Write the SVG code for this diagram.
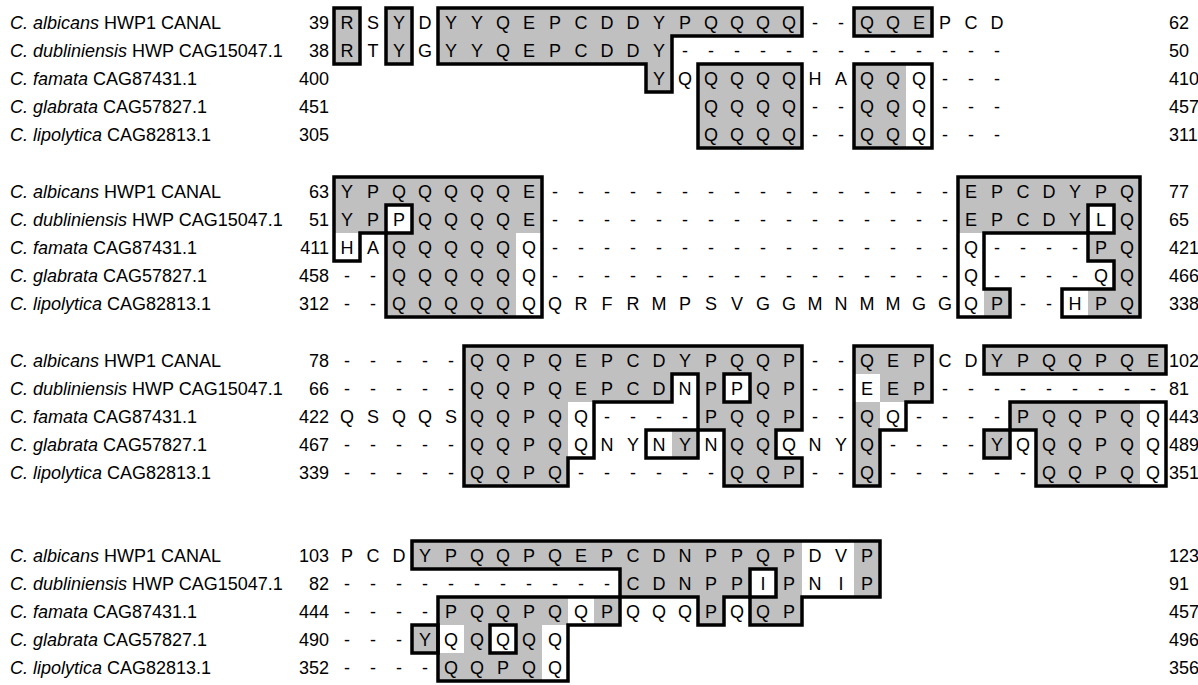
<svg xmlns="http://www.w3.org/2000/svg" width="1198" height="685" viewBox="0 0 1198 685">
<style>
text{font-family:"Liberation Sans",Arial,Helvetica,sans-serif;font-size:18px;fill:#000}
.sp{font-style:italic}
.res{text-anchor:middle}
.ln{text-anchor:end}
.g{fill:#c0c0c0}
.o{fill:none;stroke:#000;stroke-width:3.5;stroke-linejoin:miter}
</style>
<rect width="1198" height="685" fill="#fff"/>

<g id="block1" transform="translate(0,8)">
  <g id="b1-labels">
    <text x="10" y="21"><tspan class="sp">C. albicans</tspan> HWP1 CANAL</text>
    <text x="10" y="49"><tspan class="sp">C. dubliniensis</tspan> HWP CAG15047.1</text>
    <text x="10" y="77"><tspan class="sp">C. famata</tspan> CAG87431.1</text>
    <text x="10" y="105"><tspan class="sp">C. glabrata</tspan> CAG57827.1</text>
    <text x="10" y="133"><tspan class="sp">C. lipolytica</tspan> CAG82813.1</text>
  </g>
  <g transform="translate(334,0)">
    <g id="b1-shade" class="g">
      <rect x="0" y="0" width="26" height="56"/>
      <rect x="52" y="0" width="26" height="56"/>
      <rect x="104" y="0" width="364" height="28"/>
      <rect x="520" y="0" width="78" height="28"/>
      <rect x="104" y="28" width="234" height="28"/>
      <rect x="312" y="56" width="26" height="28"/>
      <rect x="364" y="56" width="104" height="84"/>
      <rect x="520" y="56" width="52" height="84"/>
    </g>
    <g id="b1-seq" class="res">
      <text x="13 39 65 91 117 143 169 195 221 247 273 299 325 351 377 403 429 455 481 507 533 559 585 611 637 663" y="21">RSYDYYQEPCDDYPQQQQ--QQEPCD</text>
      <text x="13 39 65 91 117 143 169 195 221 247 273 299 325 351 377 403 429 455 481 507 533 559 585 611 637 663" y="49">RTYGYYQEPCDDY-------------</text>
      <text x="325 351 377 403 429 455 481 507 533 559 585 611 637 663" y="77">YQQQQQHAQQQ---</text>
      <text x="377 403 429 455 481 507 533 559 585 611 637 663" y="105">QQQQ--QQQ---</text>
      <text x="377 403 429 455 481 507 533 559 585 611 637 663" y="133">QQQQ--QQQ---</text>
    </g>
    <g id="b1-num">
      <text class="ln" x="-5" y="21">39</text><text class="ln" x="-5" y="49">38</text><text class="ln" x="-5" y="77">400</text><text class="ln" x="-5" y="105">451</text><text class="ln" x="-5" y="133">305</text>
      <text x="835" y="21">62</text><text x="835" y="49">50</text><text x="835" y="77">410</text><text x="835" y="105">457</text><text x="835" y="133">311</text>
    </g>
    <g id="b1-boxes" class="o">
      <path d="M0,0H26V56H0Z"/>
      <path d="M52,0H78V56H52Z"/>
      <path d="M104,0H468V28H338V84H312V56H104Z"/>
      <path d="M364,56H468V140H364Z"/>
      <path d="M520,0H598V28H520Z"/>
      <path d="M520,56H598V140H520Z"/>
    </g>
  </g>
</g>

<g id="block2" transform="translate(0,177)">
  <g id="b2-labels">
    <text x="10" y="21"><tspan class="sp">C. albicans</tspan> HWP1 CANAL</text>
    <text x="10" y="49"><tspan class="sp">C. dubliniensis</tspan> HWP CAG15047.1</text>
    <text x="10" y="77"><tspan class="sp">C. famata</tspan> CAG87431.1</text>
    <text x="10" y="105"><tspan class="sp">C. glabrata</tspan> CAG57827.1</text>
    <text x="10" y="133"><tspan class="sp">C. lipolytica</tspan> CAG82813.1</text>
  </g>
  <g transform="translate(334,0)">
    <g id="b2-shade" class="g">
      <rect x="0" y="0" width="208" height="28"/>
      <rect x="624" y="0" width="182" height="28"/>
      <rect x="0" y="28" width="52" height="28"/>
      <rect x="78" y="28" width="130" height="28"/>
      <rect x="624" y="28" width="130" height="28"/>
      <rect x="780" y="28" width="26" height="28"/>
      <rect x="52" y="56" width="130" height="84"/>
      <rect x="754" y="56" width="52" height="28"/>
      <rect x="780" y="84" width="26" height="56"/>
      <rect x="650" y="112" width="26" height="28"/>
      <rect x="754" y="112" width="26" height="28"/>
    </g>
    <g id="b2-seq" class="res">
      <text x="13 39 65 91 117 143 169 195 221 247 273 299 325 351 377 403 429 455 481 507 533 559 585 611 637 663 689 715 741 767 793" y="21">YPQQQQQE----------------EPCDYPQ</text>
      <text x="13 39 65 91 117 143 169 195 221 247 273 299 325 351 377 403 429 455 481 507 533 559 585 611 637 663 689 715 741 767 793" y="49">YPPQQQQE----------------EPCDYLQ</text>
      <text x="13 39 65 91 117 143 169 195 221 247 273 299 325 351 377 403 429 455 481 507 533 559 585 611 637 663 689 715 741 767 793" y="77">HAQQQQQQ----------------Q----PQ</text>
      <text x="13 39 65 91 117 143 169 195 221 247 273 299 325 351 377 403 429 455 481 507 533 559 585 611 637 663 689 715 741 767 793" y="105">--QQQQQQ----------------Q----QQ</text>
      <text x="13 39 65 91 117 143 169 195 221 247 273 299 325 351 377 403 429 455 481 507 533 559 585 611 637 663 689 715 741 767 793" y="133">--QQQQQQQRFRMPSVGGMNMMGGQP--HPQ</text>
    </g>
    <g id="b2-num">
      <text class="ln" x="-5" y="21">63</text><text class="ln" x="-5" y="49">51</text><text class="ln" x="-5" y="77">411</text><text class="ln" x="-5" y="105">458</text><text class="ln" x="-5" y="133">312</text>
      <text x="835" y="21">77</text><text x="835" y="49">65</text><text x="835" y="77">421</text><text x="835" y="105">466</text><text x="835" y="133">338</text>
    </g>
    <g id="b2-boxes" class="o">
      <path d="M0,0H208V140H52V56H26V84H0Z"/>
      <path d="M52,28H78V56H52Z"/>
      <path d="M624,0H806V140H728V112H780V84H754V56H650V112H676V140H624Z"/>
      <path d="M754,28H780V56H754Z"/>
    </g>
  </g>
</g>

<g id="block3" transform="translate(0,346)">
  <g id="b3-labels">
    <text x="10" y="21"><tspan class="sp">C. albicans</tspan> HWP1 CANAL</text>
    <text x="10" y="49"><tspan class="sp">C. dubliniensis</tspan> HWP CAG15047.1</text>
    <text x="10" y="77"><tspan class="sp">C. famata</tspan> CAG87431.1</text>
    <text x="10" y="105"><tspan class="sp">C. glabrata</tspan> CAG57827.1</text>
    <text x="10" y="133"><tspan class="sp">C. lipolytica</tspan> CAG82813.1</text>
  </g>
  <g transform="translate(334,0)">
    <g id="b3-shade" class="g">
      <rect x="130" y="0" width="338" height="28"/>
      <rect x="520" y="0" width="78" height="28"/>
      <rect x="650" y="0" width="182" height="28"/>
      <rect x="130" y="28" width="208" height="28"/>
      <rect x="364" y="28" width="26" height="28"/>
      <rect x="416" y="28" width="52" height="28"/>
      <rect x="546" y="28" width="52" height="28"/>
      <rect x="130" y="56" width="104" height="84"/>
      <rect x="364" y="56" width="104" height="28"/>
      <rect x="390" y="84" width="52" height="56"/>
      <rect x="442" y="112" width="26" height="28"/>
      <rect x="338" y="84" width="26" height="28"/>
      <rect x="520" y="56" width="26" height="84"/>
      <rect x="676" y="56" width="130" height="28"/>
      <rect x="702" y="84" width="104" height="56"/>
      <rect x="650" y="84" width="26" height="28"/>
    </g>
    <g id="b3-seq" class="res">
      <text x="13 39 65 91 117 143 169 195 221 247 273 299 325 351 377 403 429 455 481 507 533 559 585 611 637 663 689 715 741 767 793 819" y="21">-----QQPQEPCDYPQQP--QEPCDYPQQPQE</text>
      <text x="13 39 65 91 117 143 169 195 221 247 273 299 325 351 377 403 429 455 481 507 533 559 585 611 637 663 689 715 741 767 793 819" y="49">-----QQPQEPCDNPPQP--EEP---------</text>
      <text x="13 39 65 91 117 143 169 195 221 247 273 299 325 351 377 403 429 455 481 507 533 559 585 611 637 663 689 715 741 767 793 819" y="77">QSQQSQQPQQ----PQQP--QQ----PQQPQQ</text>
      <text x="13 39 65 91 117 143 169 195 221 247 273 299 325 351 377 403 429 455 481 507 533 559 585 611 637 663 689 715 741 767 793 819" y="105">-----QQPQQNYNYNQQQNYQ----YQQQPQQ</text>
      <text x="13 39 65 91 117 143 169 195 221 247 273 299 325 351 377 403 429 455 481 507 533 559 585 611 637 663 689 715 741 767 793 819" y="133">-----QQPQ------QQP--Q------QQPQQ</text>
    </g>
    <g id="b3-num">
      <text class="ln" x="-5" y="21">78</text><text class="ln" x="-5" y="49">66</text><text class="ln" x="-5" y="77">422</text><text class="ln" x="-5" y="105">467</text><text class="ln" x="-5" y="133">339</text>
      <text x="835" y="21">102</text><text x="835" y="49">81</text><text x="835" y="77">443</text><text x="835" y="105">489</text><text x="835" y="133">351</text>
    </g>
    <g id="b3-boxes" class="o">
      <path d="M130,0H468V84H442V112H468V140H390V84H364V28H338V56H260V112H234V140H130Z"/>
      <path d="M390,28H416V56H390Z"/>
      <path d="M312,84H364V112H312Z"/>
      <path d="M520,0H598V56H572V84H546V140H520Z"/>
      <path d="M650,0H832V28H650Z"/>
      <path d="M676,56H832V140H702V84H676Z"/>
      <path d="M650,84H676V112H650Z"/>
    </g>
  </g>
</g>

<g id="block4" transform="translate(0,541)">
  <g id="b4-labels">
    <text x="10" y="21"><tspan class="sp">C. albicans</tspan> HWP1 CANAL</text>
    <text x="10" y="49"><tspan class="sp">C. dubliniensis</tspan> HWP CAG15047.1</text>
    <text x="10" y="77"><tspan class="sp">C. famata</tspan> CAG87431.1</text>
    <text x="10" y="105"><tspan class="sp">C. glabrata</tspan> CAG57827.1</text>
    <text x="10" y="133"><tspan class="sp">C. lipolytica</tspan> CAG82813.1</text>
  </g>
  <g transform="translate(334,0)">
    <g id="b4-shade" class="g">
      <rect x="78" y="0" width="390" height="28"/>
      <rect x="520" y="0" width="26" height="56"/>
      <rect x="286" y="28" width="130" height="28"/>
      <rect x="442" y="28" width="26" height="28"/>
      <rect x="104" y="56" width="130" height="28"/>
      <rect x="260" y="56" width="26" height="28"/>
      <rect x="364" y="56" width="26" height="28"/>
      <rect x="416" y="56" width="52" height="28"/>
      <rect x="78" y="84" width="26" height="28"/>
      <rect x="130" y="84" width="26" height="28"/>
      <rect x="182" y="84" width="26" height="28"/>
      <rect x="104" y="112" width="104" height="28"/>
    </g>
    <g id="b4-seq" class="res">
      <text x="13 39 65 91 117 143 169 195 221 247 273 299 325 351 377 403 429 455 481 507 533" y="21">PCDYPQQPQEPCDNPPQPDVP</text>
      <text x="13 39 65 91 117 143 169 195 221 247 273 299 325 351 377 403 429 455 481 507 533" y="49">-----------CDNPPIPNIP</text>
      <text x="13 39 65 91 117 143 169 195 221 247 273 299 325 351 377 403 429 455" y="77">----PQQPQQPQQQPQQP</text>
      <text x="13 39 65 91 117 143 169 195 221" y="105">---YQQQQQ</text>
      <text x="13 39 65 91 117 143 169 195 221" y="133">----QQPQQ</text>
    </g>
    <g id="b4-num">
      <text class="ln" x="-5" y="21">103</text><text class="ln" x="-5" y="49">82</text><text class="ln" x="-5" y="77">444</text><text class="ln" x="-5" y="105">490</text><text class="ln" x="-5" y="133">352</text>
      <text x="835" y="21">123</text><text x="835" y="49">91</text><text x="835" y="77">457</text><text x="835" y="105">496</text><text x="835" y="133">356</text>
    </g>
    <g id="b4-boxes" class="o">
      <path d="M78,0H546V56H468V84H416V56H390V84H364V56H286V28H78Z"/>
      <path d="M416,28H442V56H416Z"/>
      <path d="M104,56H286V84H234V140H104Z"/>
      <path d="M78,84H104V112H78Z"/>
      <path d="M156,84H182V112H156Z"/>
    </g>
  </g>
</g>
</svg>
